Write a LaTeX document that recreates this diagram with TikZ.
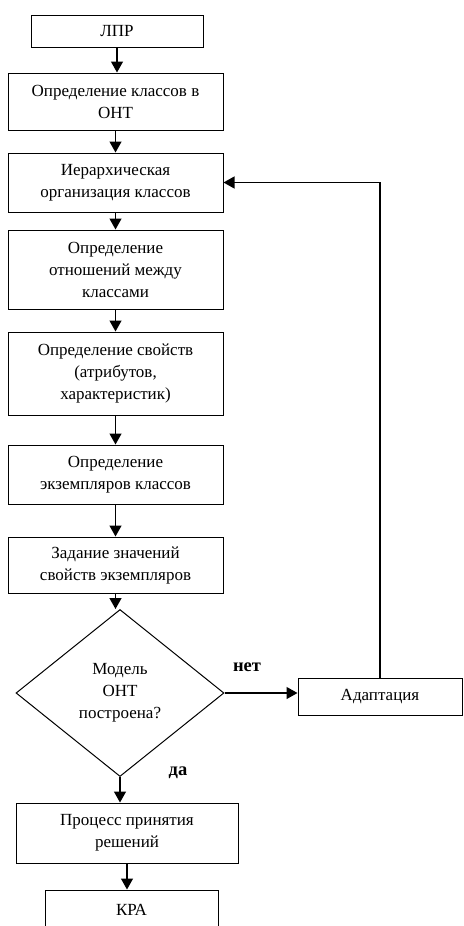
\documentclass[tikz,border=0pt]{standalone}
\usepackage{fontspec}
\setmainfont{Liberation Serif}
\usetikzlibrary{shapes.geometric,arrows.meta}

\begin{document}
\begin{tikzpicture}[x=1pt,y=-1pt,
			font=\fontsize{17}{22}\selectfont,
			block/.style={rectangle,draw,line width=1pt,align=center,inner sep=0pt},
			decision/.style={diamond,draw,line width=1pt,align=center,inner sep=0pt},
			lbl/.style={inner sep=0pt,font=\fontsize{18.5}{22}\selectfont\bfseries},
			arr/.style={line width=1.3pt,-{Triangle[length=11pt,width=12pt]}}]
		\useasboundingbox (0,0) rectangle (463,926);
		\clip (0,0) rectangle (463,926);
		% main column
		\node[block,minimum width=172,minimum height=32] (lpr) at (117,31) {ЛПР};
		\node[block,minimum width=215,minimum height=57] (classes) at (115.5,101.5) {Определение классов в\\ОНТ};
		\node[block,minimum width=215,minimum height=59] (hier) at (115.5,182.5) {Иерархическая\\организация классов};
		\node[block,minimum width=215,minimum height=79] (rel) at (115.5,269.5) {Определение\\отношений между\\классами};
		\node[block,minimum width=215,minimum height=83] (props) at (115.5,373.5) {Определение свойств\\(атрибутов,\\характеристик)};
		\node[block,minimum width=215,minimum height=59] (inst) at (115.5,474.5) {Определение\\экземпляров классов};
		\node[block,minimum width=215,minimum height=56] (vals) at (115.5,565) {Задание значений\\свойств экземпляров};
		\node[decision,minimum width=208,minimum height=167] (check) at (120,693) {Модель\\ОНТ\\построена?};
		\node[block,minimum width=164,minimum height=37] (adapt) at (380,696.5) {Адаптация};
		\node[block,minimum width=222,minimum height=60] (proc) at (127,833) {Процесс принятия\\решений};
		\node[block,minimum width=173,minimum height=40] (kra) at (131.5,910) {КРА};
		\node[lbl] (no) at (247,667) {нет};
		\node[lbl] (yes) at (178,773) {да};
		% arrows
		\draw[arr] (lpr.south) -- (lpr.south |- classes.north);
		\draw[arr] (classes.south) -- (classes.south |- hier.north);
		\draw[arr] (hier.south) -- (hier.south |- rel.north);
		\draw[arr] (rel.south) -- (rel.south |- props.north);
		\draw[arr] (props.south) -- (props.south |- inst.north);
		\draw[arr] (inst.south) -- (inst.south |- vals.north);
		\draw[arr] (vals.south) -- (vals.south |- check.north);
		\draw[arr] (check.east) -- (check.east -| adapt.west);
		\draw[arr] (adapt.north) |- (hier.east);
		\draw[arr] (check.south) -- (check.south |- proc.north);
		\draw[arr] (proc.south) -- (proc.south |- kra.north);
\end{tikzpicture}
\end{document}
